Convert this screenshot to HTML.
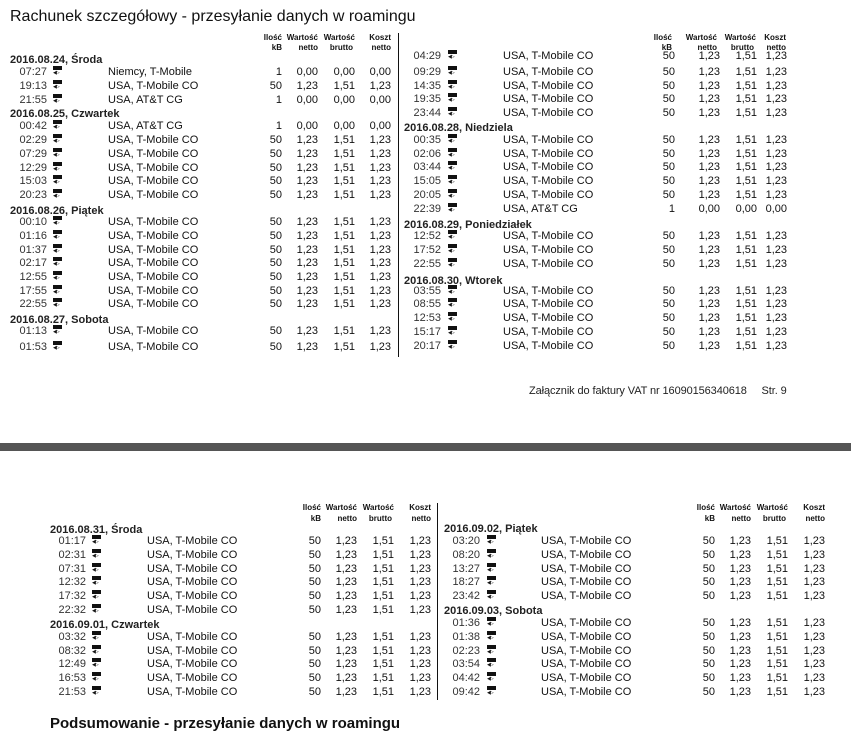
<!DOCTYPE html>
<html><head><meta charset="utf-8"><style>
body{margin:0;width:851px;height:739px;background:#fff;position:relative;overflow:hidden;font-family:"Liberation Sans",sans-serif;color:#111}
.r,.d,.h{position:absolute;left:0;width:851px;height:14px;line-height:14px;font-size:11px;white-space:nowrap}
.r span{position:absolute;top:0}
.t{text-align:right;color:#333}
.k,.n,.b,.c{text-align:right;left:0}
.i{width:9px;height:10px;top:1px!important}
.i:before{content:"";position:absolute;left:0;top:0;width:9px;height:4px;background:#111}
.i:after{content:"◀▷";position:absolute;left:0;top:4px;font-size:5px;line-height:6px;letter-spacing:-1px}
.A .t{left:0;width:47px}.A .i{left:53px}.A .l{left:108px}.A .k{width:282px}.A .n{width:318px}.A .b{width:355px}.A .c{width:391px}
.B .t{left:0;width:441px}.B .i{left:448px}.B .l{left:503px}.B .k{width:675px}.B .n{width:720px}.B .b{width:757px}.B .c{width:787px}
.C .t{left:0;width:86px}.C .i{left:92px}.C .l{left:147px}.C .k{width:321px}.C .n{width:357px}.C .b{width:394px}.C .c{width:431px}
.D .t{left:0;width:480px}.D .i{left:487px}.D .l{left:541px}.D .k{width:715px}.D .n{width:751px}.D .b{width:788px}.D .c{width:825px}
.d{font-weight:bold;color:#222}
.h{font-size:8px;font-weight:bold;height:10px;line-height:10px}
.h span{position:absolute;top:0;left:0;text-align:right}
.v{position:absolute;width:1px;background:#111}
</style></head><body>
<div style="position:absolute;left:10px;top:8px;font-size:16px;color:#111">Rachunek szczegółowy - przesyłanie danych w roamingu</div>
<div class="v" style="left:398px;top:33px;height:324px"></div>
<div class="h" style="top:33px"><span style="width:282px">Ilość</span><span style="width:318px">Wartość</span><span style="width:355px">Wartość</span><span style="width:391px">Koszt</span><span style="width:672px">Ilość</span><span style="width:717px">Wartość</span><span style="width:756px">Wartość</span><span style="width:786px">Koszt</span></div>
<div class="h" style="top:43px"><span style="width:282px">kB</span><span style="width:318px">netto</span><span style="width:353px">brutto</span><span style="width:391px">netto</span><span style="width:672px">kB</span><span style="width:717px">netto</span><span style="width:754px">brutto</span><span style="width:786px">netto</span></div>

<div class="d" style="top:53px;left:10px">2016.08.24, Środa</div>
<div class="r A" style="top:65px"><span class=t>07:27</span><span class=i></span><span class=l>Niemcy, T-Mobile</span><span class=k>1</span><span class=n>0,00</span><span class=b>0,00</span><span class=c>0,00</span></div>
<div class="r A" style="top:79px"><span class=t>19:13</span><span class=i></span><span class=l>USA, T-Mobile CO</span><span class=k>50</span><span class=n>1,23</span><span class=b>1,51</span><span class=c>1,23</span></div>
<div class="r A" style="top:93px"><span class=t>21:55</span><span class=i></span><span class=l>USA, AT&amp;T CG</span><span class=k>1</span><span class=n>0,00</span><span class=b>0,00</span><span class=c>0,00</span></div>
<div class="d" style="top:107px;left:10px">2016.08.25, Czwartek</div>
<div class="r A" style="top:119px"><span class=t>00:42</span><span class=i></span><span class=l>USA, AT&amp;T CG</span><span class=k>1</span><span class=n>0,00</span><span class=b>0,00</span><span class=c>0,00</span></div>
<div class="r A" style="top:133px"><span class=t>02:29</span><span class=i></span><span class=l>USA, T-Mobile CO</span><span class=k>50</span><span class=n>1,23</span><span class=b>1,51</span><span class=c>1,23</span></div>
<div class="r A" style="top:147px"><span class=t>07:29</span><span class=i></span><span class=l>USA, T-Mobile CO</span><span class=k>50</span><span class=n>1,23</span><span class=b>1,51</span><span class=c>1,23</span></div>
<div class="r A" style="top:161px"><span class=t>12:29</span><span class=i></span><span class=l>USA, T-Mobile CO</span><span class=k>50</span><span class=n>1,23</span><span class=b>1,51</span><span class=c>1,23</span></div>
<div class="r A" style="top:174px"><span class=t>15:03</span><span class=i></span><span class=l>USA, T-Mobile CO</span><span class=k>50</span><span class=n>1,23</span><span class=b>1,51</span><span class=c>1,23</span></div>
<div class="r A" style="top:188px"><span class=t>20:23</span><span class=i></span><span class=l>USA, T-Mobile CO</span><span class=k>50</span><span class=n>1,23</span><span class=b>1,51</span><span class=c>1,23</span></div>
<div class="d" style="top:204px;left:10px">2016.08.26, Piątek</div>
<div class="r A" style="top:215px"><span class=t>00:10</span><span class=i></span><span class=l>USA, T-Mobile CO</span><span class=k>50</span><span class=n>1,23</span><span class=b>1,51</span><span class=c>1,23</span></div>
<div class="r A" style="top:229px"><span class=t>01:16</span><span class=i></span><span class=l>USA, T-Mobile CO</span><span class=k>50</span><span class=n>1,23</span><span class=b>1,51</span><span class=c>1,23</span></div>
<div class="r A" style="top:243px"><span class=t>01:37</span><span class=i></span><span class=l>USA, T-Mobile CO</span><span class=k>50</span><span class=n>1,23</span><span class=b>1,51</span><span class=c>1,23</span></div>
<div class="r A" style="top:256px"><span class=t>02:17</span><span class=i></span><span class=l>USA, T-Mobile CO</span><span class=k>50</span><span class=n>1,23</span><span class=b>1,51</span><span class=c>1,23</span></div>
<div class="r A" style="top:270px"><span class=t>12:55</span><span class=i></span><span class=l>USA, T-Mobile CO</span><span class=k>50</span><span class=n>1,23</span><span class=b>1,51</span><span class=c>1,23</span></div>
<div class="r A" style="top:284px"><span class=t>17:55</span><span class=i></span><span class=l>USA, T-Mobile CO</span><span class=k>50</span><span class=n>1,23</span><span class=b>1,51</span><span class=c>1,23</span></div>
<div class="r A" style="top:297px"><span class=t>22:55</span><span class=i></span><span class=l>USA, T-Mobile CO</span><span class=k>50</span><span class=n>1,23</span><span class=b>1,51</span><span class=c>1,23</span></div>
<div class="d" style="top:313px;left:10px">2016.08.27, Sobota</div>
<div class="r A" style="top:324px"><span class=t>01:13</span><span class=i></span><span class=l>USA, T-Mobile CO</span><span class=k>50</span><span class=n>1,23</span><span class=b>1,51</span><span class=c>1,23</span></div>
<div class="r A" style="top:340px"><span class=t>01:53</span><span class=i></span><span class=l>USA, T-Mobile CO</span><span class=k>50</span><span class=n>1,23</span><span class=b>1,51</span><span class=c>1,23</span></div>

<div class="r B" style="top:49px"><span class=t>04:29</span><span class=i></span><span class=l>USA, T-Mobile CO</span><span class=k>50</span><span class=n>1,23</span><span class=b>1,51</span><span class=c>1,23</span></div>
<div class="r B" style="top:65px"><span class=t>09:29</span><span class=i></span><span class=l>USA, T-Mobile CO</span><span class=k>50</span><span class=n>1,23</span><span class=b>1,51</span><span class=c>1,23</span></div>
<div class="r B" style="top:79px"><span class=t>14:35</span><span class=i></span><span class=l>USA, T-Mobile CO</span><span class=k>50</span><span class=n>1,23</span><span class=b>1,51</span><span class=c>1,23</span></div>
<div class="r B" style="top:92px"><span class=t>19:35</span><span class=i></span><span class=l>USA, T-Mobile CO</span><span class=k>50</span><span class=n>1,23</span><span class=b>1,51</span><span class=c>1,23</span></div>
<div class="r B" style="top:106px"><span class=t>23:44</span><span class=i></span><span class=l>USA, T-Mobile CO</span><span class=k>50</span><span class=n>1,23</span><span class=b>1,51</span><span class=c>1,23</span></div>
<div class="d" style="top:121px;left:404px">2016.08.28, Niedziela</div>
<div class="r B" style="top:133px"><span class=t>00:35</span><span class=i></span><span class=l>USA, T-Mobile CO</span><span class=k>50</span><span class=n>1,23</span><span class=b>1,51</span><span class=c>1,23</span></div>
<div class="r B" style="top:147px"><span class=t>02:06</span><span class=i></span><span class=l>USA, T-Mobile CO</span><span class=k>50</span><span class=n>1,23</span><span class=b>1,51</span><span class=c>1,23</span></div>
<div class="r B" style="top:160px"><span class=t>03:44</span><span class=i></span><span class=l>USA, T-Mobile CO</span><span class=k>50</span><span class=n>1,23</span><span class=b>1,51</span><span class=c>1,23</span></div>
<div class="r B" style="top:174px"><span class=t>15:05</span><span class=i></span><span class=l>USA, T-Mobile CO</span><span class=k>50</span><span class=n>1,23</span><span class=b>1,51</span><span class=c>1,23</span></div>
<div class="r B" style="top:188px"><span class=t>20:05</span><span class=i></span><span class=l>USA, T-Mobile CO</span><span class=k>50</span><span class=n>1,23</span><span class=b>1,51</span><span class=c>1,23</span></div>
<div class="r B" style="top:202px"><span class=t>22:39</span><span class=i></span><span class=l>USA, AT&amp;T CG</span><span class=k>1</span><span class=n>0,00</span><span class=b>0,00</span><span class=c>0,00</span></div>
<div class="d" style="top:218px;left:404px">2016.08.29, Poniedziałek</div>
<div class="r B" style="top:229px"><span class=t>12:52</span><span class=i></span><span class=l>USA, T-Mobile CO</span><span class=k>50</span><span class=n>1,23</span><span class=b>1,51</span><span class=c>1,23</span></div>
<div class="r B" style="top:243px"><span class=t>17:52</span><span class=i></span><span class=l>USA, T-Mobile CO</span><span class=k>50</span><span class=n>1,23</span><span class=b>1,51</span><span class=c>1,23</span></div>
<div class="r B" style="top:257px"><span class=t>22:55</span><span class=i></span><span class=l>USA, T-Mobile CO</span><span class=k>50</span><span class=n>1,23</span><span class=b>1,51</span><span class=c>1,23</span></div>
<div class="d" style="top:274px;left:404px">2016.08.30, Wtorek</div>
<div class="r B" style="top:284px"><span class=t>03:55</span><span class=i></span><span class=l>USA, T-Mobile CO</span><span class=k>50</span><span class=n>1,23</span><span class=b>1,51</span><span class=c>1,23</span></div>
<div class="r B" style="top:297px"><span class=t>08:55</span><span class=i></span><span class=l>USA, T-Mobile CO</span><span class=k>50</span><span class=n>1,23</span><span class=b>1,51</span><span class=c>1,23</span></div>
<div class="r B" style="top:311px"><span class=t>12:53</span><span class=i></span><span class=l>USA, T-Mobile CO</span><span class=k>50</span><span class=n>1,23</span><span class=b>1,51</span><span class=c>1,23</span></div>
<div class="r B" style="top:325px"><span class=t>15:17</span><span class=i></span><span class=l>USA, T-Mobile CO</span><span class=k>50</span><span class=n>1,23</span><span class=b>1,51</span><span class=c>1,23</span></div>
<div class="r B" style="top:339px"><span class=t>20:17</span><span class=i></span><span class=l>USA, T-Mobile CO</span><span class=k>50</span><span class=n>1,23</span><span class=b>1,51</span><span class=c>1,23</span></div>

<div style="position:absolute;left:529px;top:385px;font-size:11px;letter-spacing:-0.1px;color:#222;white-space:nowrap">Załącznik do faktury VAT nr 16090156340618 &nbsp;&nbsp;&nbsp; Str. 9</div>
<div style="position:absolute;left:0;top:443px;width:851px;height:8px;background:#555"></div>

<div class="v" style="left:437px;top:503px;height:197px"></div>
<div class="h" style="top:503px"><span style="width:321px">Ilość</span><span style="width:357px">Wartość</span><span style="width:394px">Wartość</span><span style="width:431px">Koszt</span><span style="width:715px">Ilość</span><span style="width:751px">Wartość</span><span style="width:788px">Wartość</span><span style="width:825px">Koszt</span></div>
<div class="h" style="top:514px"><span style="width:321px">kB</span><span style="width:357px">netto</span><span style="width:392px">brutto</span><span style="width:431px">netto</span><span style="width:715px">kB</span><span style="width:751px">netto</span><span style="width:786px">brutto</span><span style="width:825px">netto</span></div>

<div class="d" style="top:523px;left:50px">2016.08.31, Środa</div>
<div class="r C" style="top:534px"><span class=t>01:17</span><span class=i></span><span class=l>USA, T-Mobile CO</span><span class=k>50</span><span class=n>1,23</span><span class=b>1,51</span><span class=c>1,23</span></div>
<div class="r C" style="top:548px"><span class=t>02:31</span><span class=i></span><span class=l>USA, T-Mobile CO</span><span class=k>50</span><span class=n>1,23</span><span class=b>1,51</span><span class=c>1,23</span></div>
<div class="r C" style="top:562px"><span class=t>07:31</span><span class=i></span><span class=l>USA, T-Mobile CO</span><span class=k>50</span><span class=n>1,23</span><span class=b>1,51</span><span class=c>1,23</span></div>
<div class="r C" style="top:575px"><span class=t>12:32</span><span class=i></span><span class=l>USA, T-Mobile CO</span><span class=k>50</span><span class=n>1,23</span><span class=b>1,51</span><span class=c>1,23</span></div>
<div class="r C" style="top:589px"><span class=t>17:32</span><span class=i></span><span class=l>USA, T-Mobile CO</span><span class=k>50</span><span class=n>1,23</span><span class=b>1,51</span><span class=c>1,23</span></div>
<div class="r C" style="top:603px"><span class=t>22:32</span><span class=i></span><span class=l>USA, T-Mobile CO</span><span class=k>50</span><span class=n>1,23</span><span class=b>1,51</span><span class=c>1,23</span></div>
<div class="d" style="top:618px;left:50px">2016.09.01, Czwartek</div>
<div class="r C" style="top:630px"><span class=t>03:32</span><span class=i></span><span class=l>USA, T-Mobile CO</span><span class=k>50</span><span class=n>1,23</span><span class=b>1,51</span><span class=c>1,23</span></div>
<div class="r C" style="top:644px"><span class=t>08:32</span><span class=i></span><span class=l>USA, T-Mobile CO</span><span class=k>50</span><span class=n>1,23</span><span class=b>1,51</span><span class=c>1,23</span></div>
<div class="r C" style="top:657px"><span class=t>12:49</span><span class=i></span><span class=l>USA, T-Mobile CO</span><span class=k>50</span><span class=n>1,23</span><span class=b>1,51</span><span class=c>1,23</span></div>
<div class="r C" style="top:671px"><span class=t>16:53</span><span class=i></span><span class=l>USA, T-Mobile CO</span><span class=k>50</span><span class=n>1,23</span><span class=b>1,51</span><span class=c>1,23</span></div>
<div class="r C" style="top:685px"><span class=t>21:53</span><span class=i></span><span class=l>USA, T-Mobile CO</span><span class=k>50</span><span class=n>1,23</span><span class=b>1,51</span><span class=c>1,23</span></div>

<div class="d" style="top:522px;left:444px">2016.09.02, Piątek</div>
<div class="r D" style="top:534px"><span class=t>03:20</span><span class=i></span><span class=l>USA, T-Mobile CO</span><span class=k>50</span><span class=n>1,23</span><span class=b>1,51</span><span class=c>1,23</span></div>
<div class="r D" style="top:548px"><span class=t>08:20</span><span class=i></span><span class=l>USA, T-Mobile CO</span><span class=k>50</span><span class=n>1,23</span><span class=b>1,51</span><span class=c>1,23</span></div>
<div class="r D" style="top:562px"><span class=t>13:27</span><span class=i></span><span class=l>USA, T-Mobile CO</span><span class=k>50</span><span class=n>1,23</span><span class=b>1,51</span><span class=c>1,23</span></div>
<div class="r D" style="top:575px"><span class=t>18:27</span><span class=i></span><span class=l>USA, T-Mobile CO</span><span class=k>50</span><span class=n>1,23</span><span class=b>1,51</span><span class=c>1,23</span></div>
<div class="r D" style="top:589px"><span class=t>23:42</span><span class=i></span><span class=l>USA, T-Mobile CO</span><span class=k>50</span><span class=n>1,23</span><span class=b>1,51</span><span class=c>1,23</span></div>
<div class="d" style="top:604px;left:444px">2016.09.03, Sobota</div>
<div class="r D" style="top:616px"><span class=t>01:36</span><span class=i></span><span class=l>USA, T-Mobile CO</span><span class=k>50</span><span class=n>1,23</span><span class=b>1,51</span><span class=c>1,23</span></div>
<div class="r D" style="top:630px"><span class=t>01:38</span><span class=i></span><span class=l>USA, T-Mobile CO</span><span class=k>50</span><span class=n>1,23</span><span class=b>1,51</span><span class=c>1,23</span></div>
<div class="r D" style="top:644px"><span class=t>02:23</span><span class=i></span><span class=l>USA, T-Mobile CO</span><span class=k>50</span><span class=n>1,23</span><span class=b>1,51</span><span class=c>1,23</span></div>
<div class="r D" style="top:657px"><span class=t>03:54</span><span class=i></span><span class=l>USA, T-Mobile CO</span><span class=k>50</span><span class=n>1,23</span><span class=b>1,51</span><span class=c>1,23</span></div>
<div class="r D" style="top:671px"><span class=t>04:42</span><span class=i></span><span class=l>USA, T-Mobile CO</span><span class=k>50</span><span class=n>1,23</span><span class=b>1,51</span><span class=c>1,23</span></div>
<div class="r D" style="top:685px"><span class=t>09:42</span><span class=i></span><span class=l>USA, T-Mobile CO</span><span class=k>50</span><span class=n>1,23</span><span class=b>1,51</span><span class=c>1,23</span></div>

<div style="position:absolute;left:50px;top:715px;font-size:15px;font-weight:bold;color:#111">Podsumowanie - przesyłanie danych w roamingu</div>
</body></html>
